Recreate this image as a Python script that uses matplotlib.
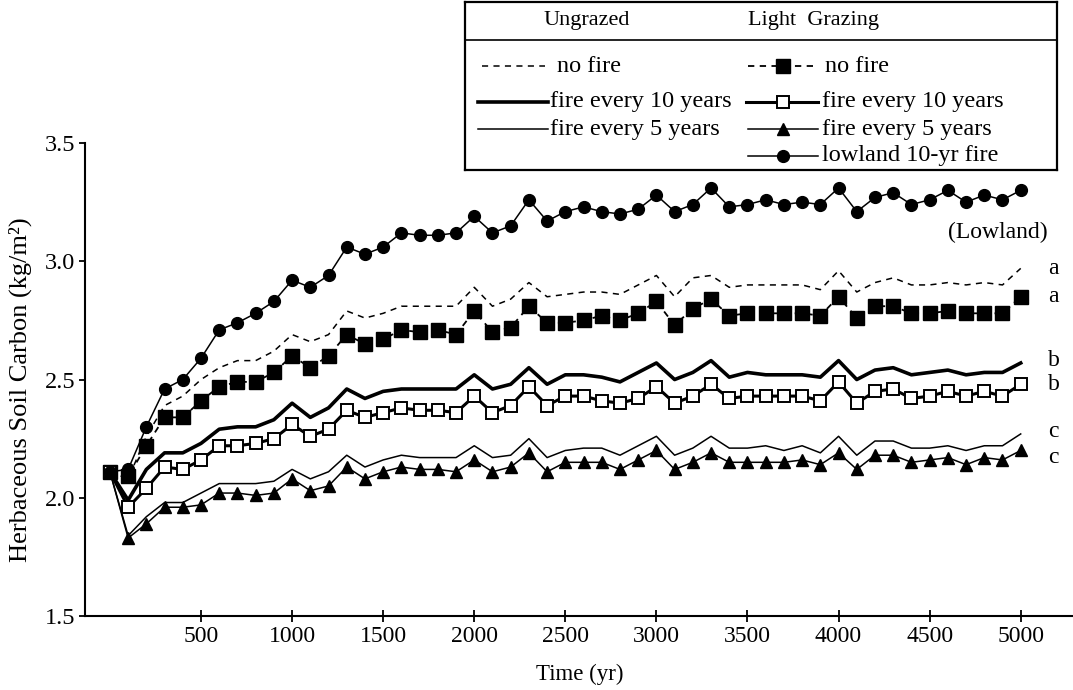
import numpy as np
import matplotlib
matplotlib.use("Agg")
import matplotlib.pyplot as plt
from matplotlib.lines import Line2D

plt.rcParams['font.family'] = ['Liberation Serif', 'DejaVu Serif']

# time axis, one value every 100 years
years = np.arange(0, 5001, 100)

ungrazed_nofire = [2.11, 2.08, 2.26, 2.39, 2.43, 2.50, 2.55, 2.58, 2.58, 2.62,
                   2.69, 2.66, 2.69, 2.79, 2.76, 2.78, 2.81, 2.81, 2.81, 2.81,
                   2.89, 2.81, 2.84, 2.91, 2.85, 2.86, 2.87, 2.87, 2.86, 2.90,
                   2.94, 2.85, 2.93, 2.94, 2.89, 2.90, 2.90, 2.90, 2.90, 2.88,
                   2.96, 2.87, 2.91, 2.93, 2.90, 2.90, 2.91, 2.90, 2.91, 2.90,
                   2.97]
ungrazed_fire10 = [2.11, 1.99, 2.12, 2.19, 2.19, 2.23, 2.29, 2.30, 2.30, 2.33,
                   2.40, 2.34, 2.38, 2.46, 2.42, 2.45, 2.46, 2.46, 2.46, 2.46,
                   2.52, 2.46, 2.48, 2.55, 2.48, 2.52, 2.52, 2.51, 2.49, 2.53,
                   2.57, 2.50, 2.53, 2.58, 2.51, 2.53, 2.52, 2.52, 2.52, 2.51,
                   2.58, 2.50, 2.54, 2.55, 2.52, 2.53, 2.54, 2.52, 2.53, 2.53,
                   2.57]
ungrazed_fire5 = [2.11, 1.84, 1.92, 1.98, 1.98, 2.02, 2.06, 2.06, 2.06, 2.07,
                  2.12, 2.08, 2.11, 2.18, 2.13, 2.16, 2.18, 2.17, 2.17, 2.17,
                  2.22, 2.17, 2.18, 2.25, 2.17, 2.20, 2.21, 2.21, 2.18, 2.22,
                  2.26, 2.18, 2.21, 2.26, 2.21, 2.21, 2.22, 2.20, 2.22, 2.19,
                  2.26, 2.18, 2.24, 2.24, 2.21, 2.21, 2.22, 2.20, 2.22, 2.22,
                  2.27]
light_nofire = [2.11, 2.09, 2.22, 2.34, 2.34, 2.41, 2.47, 2.49, 2.49, 2.53,
                2.60, 2.55, 2.60, 2.69, 2.65, 2.67, 2.71, 2.70, 2.71, 2.69,
                2.79, 2.70, 2.72, 2.81, 2.74, 2.74, 2.75, 2.77, 2.75, 2.78,
                2.83, 2.73, 2.80, 2.84, 2.77, 2.78, 2.78, 2.78, 2.78, 2.77,
                2.85, 2.76, 2.81, 2.81, 2.78, 2.78, 2.79, 2.78, 2.78, 2.78,
                2.85]
light_fire10 = [2.11, 1.96, 2.04, 2.13, 2.12, 2.16, 2.22, 2.22, 2.23, 2.25,
                2.31, 2.26, 2.29, 2.37, 2.34, 2.36, 2.38, 2.37, 2.37, 2.36,
                2.43, 2.36, 2.39, 2.47, 2.39, 2.43, 2.43, 2.41, 2.40, 2.42,
                2.47, 2.40, 2.43, 2.48, 2.42, 2.43, 2.43, 2.43, 2.43, 2.41,
                2.49, 2.40, 2.45, 2.46, 2.42, 2.43, 2.45, 2.43, 2.45, 2.43,
                2.48]
light_fire5 = [2.11, 1.83, 1.89, 1.96, 1.96, 1.97, 2.02, 2.02, 2.01, 2.02,
               2.08, 2.03, 2.05, 2.13, 2.08, 2.11, 2.13, 2.12, 2.12, 2.11,
               2.16, 2.11, 2.13, 2.19, 2.11, 2.15, 2.15, 2.15, 2.12, 2.16,
               2.20, 2.12, 2.15, 2.19, 2.15, 2.15, 2.15, 2.15, 2.16, 2.14,
               2.19, 2.12, 2.18, 2.18, 2.15, 2.16, 2.17, 2.14, 2.17, 2.16,
               2.20]
lowland_fire10 = [2.11, 2.12, 2.30, 2.46, 2.50, 2.59, 2.71, 2.74, 2.78, 2.83,
                  2.92, 2.89, 2.94, 3.06, 3.03, 3.06, 3.12, 3.11, 3.11, 3.12,
                  3.19, 3.12, 3.15, 3.26, 3.17, 3.21, 3.23, 3.21, 3.20, 3.22,
                  3.28, 3.21, 3.24, 3.31, 3.23, 3.24, 3.26, 3.24, 3.25, 3.24,
                  3.31, 3.21, 3.27, 3.29, 3.24, 3.26, 3.30, 3.25, 3.28, 3.26,
                  3.30]

xticks = [500, 1000, 1500, 2000, 2500, 3000, 3500, 4000, 4500, 5000]
yticks = [1.5, 2.0, 2.5, 3.0, 3.5]
end_letters = [("a", 2.97), ("a", 2.85), ("b", 2.58), ("b", 2.48), ("c", 2.28), ("c", 2.17)]

fig = plt.figure(figsize=(10.73, 6.9), dpi=100)
ax = fig.add_axes([0.0792, 0.1072, 0.923, 0.6855])

# ungrazed
ax.plot(years, ungrazed_nofire, color='black', lw=1.1, ls=(0, (4, 3.5)))
ax.plot(years, ungrazed_fire10, color='black', lw=2.6)
ax.plot(years, ungrazed_fire5, color='black', lw=1.1)
# light grazing
ax.plot(years, light_nofire, color='black', lw=1.3, ls=(0, (3.5, 3)),
        marker='s', ms=9.5, mfc='black', mec='black')
ax.plot(years, light_fire10, color='black', lw=2.2,
        marker='s', ms=9, mfc='white', mec='black', mew=1.4)
ax.plot(years, light_fire5, color='black', lw=1.1,
        marker='^', ms=9, mfc='black', mec='black')
ax.plot(years, lowland_fire10, color='black', lw=1.1,
        marker='o', ms=8.5, mfc='black', mec='black')

ax.set_xlim(-137, 5300)
ax.set_ylim(1.5, 3.5)
ax.set_xticks(xticks)
ax.set_yticks(yticks)
ax.set_yticklabels([f"{v:.1f}" for v in yticks])
ax.spines['top'].set_visible(False)
ax.spines['right'].set_visible(False)
ax.spines['left'].set_linewidth(1.5)
ax.spines['bottom'].set_linewidth(1.5)
ax.tick_params(axis='y', direction='out', length=4, width=1.3, labelsize=17.5, right=True, pad=3)
ax.tick_params(axis='x', direction='inout', length=9, width=1.3, labelsize=17, pad=3)
ax.set_xlabel("Time (yr)", fontsize=16.5, labelpad=12)
ax.set_ylabel("Herbaceous Soil Carbon (kg/m²)", fontsize=19)
ax.yaxis.set_label_coords(-0.054, 0.478)

for letter, yv in end_letters:
    ax.text(5150, yv, letter, fontsize=17, va='center', ha='left')
ax.text(5148, 3.12, "(Lowland)", fontsize=17, va='center', ha='right')

# legend box drawn in its own axes (pixel-like coordinates)
lax = fig.add_axes([465 / 1073, (690 - 170) / 690, 592 / 1073, 168 / 690])
lax.set_xlim(465, 1057)
lax.set_ylim(170, 2)
lax.set_xticks([])
lax.set_yticks([])
for s in lax.spines.values():
    s.set_linewidth(1.6)
lax.axhline(40, color='black', lw=1.2)
lax.text(587, 21, "Ungrazed", fontsize=16, ha='center', va='center')
lax.text(814, 21, "Light  Grazing", fontsize=16, ha='center', va='center')

fs = 17.5
lax.add_line(Line2D([482, 545], [66, 66], color='black', lw=1.1, ls=(0, (4, 3.5))))
lax.text(557, 66, "no fire", fontsize=fs, va='center')
lax.add_line(Line2D([478, 548], [102, 102], color='black', lw=2.6))
lax.text(550, 102, "fire every 10 years", fontsize=fs, va='center')
lax.add_line(Line2D([478, 548], [129, 129], color='black', lw=1.1))
lax.text(550, 129, "fire every 5 years", fontsize=fs, va='center')

lax.add_line(Line2D([748, 818], [66, 66], color='black', lw=1.3, ls=(0, (3.5, 3))))
lax.plot([783], [66], marker='s', ms=9.5, color='black')
lax.text(825, 66, "no fire", fontsize=fs, va='center')
lax.add_line(Line2D([746, 818], [102, 102], color='black', lw=2.2))
lax.plot([783], [102], marker='s', ms=9, mfc='white', mec='black', mew=1.4)
lax.text(822, 102, "fire every 10 years", fontsize=fs, va='center')
lax.add_line(Line2D([748, 818], [129, 129], color='black', lw=1.1))
lax.plot([783], [129], marker='^', ms=9, color='black')
lax.text(822, 129, "fire every 5 years", fontsize=fs, va='center')
lax.add_line(Line2D([748, 818], [156, 156], color='black', lw=1.1))
lax.plot([783], [156], marker='o', ms=8.5, color='black')
lax.text(822, 156, "lowland 10-yr fire", fontsize=fs, va='center')

fig.savefig("out.png", dpi=100)
